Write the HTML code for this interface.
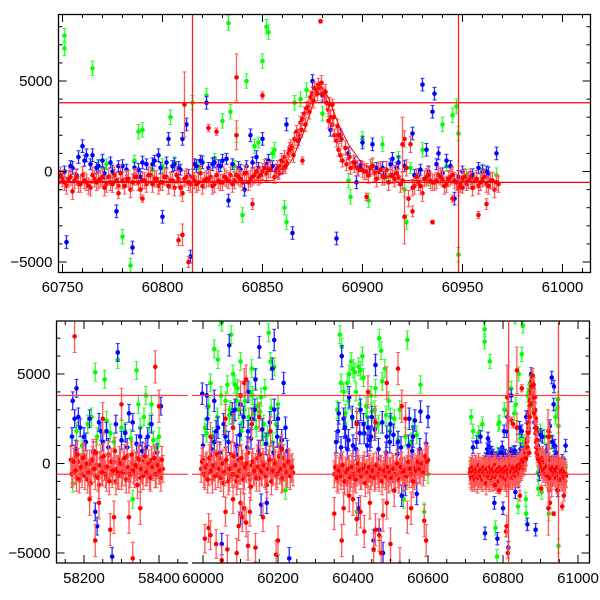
<!DOCTYPE html>
<html><head><meta charset="utf-8"><style>
html,body{margin:0;padding:0;background:#fff;}
svg{display:block;font-family:"Liberation Sans",sans-serif;}
</style></head><body>
<svg id="chart" width="600" height="600" viewBox="0 0 600 600" xmlns="http://www.w3.org/2000/svg">
<defs>
<clipPath id="clipTop"><rect x="58" y="14" width="533" height="258"/></clipPath>
<clipPath id="clipB1"><rect x="56" y="321" width="132" height="242"/></clipPath>
<clipPath id="clipB2"><rect x="192" y="321" width="398" height="242"/></clipPath>
</defs>
<g id="topPanel"></g>
<g id="botPanel"></g>
</svg>
<script>
// ---- recent season data (top panel + last bottom segment) ----
const redBaseX=[60712,60714,60716,60718,60720,60722,60724,60726,60728,60730,60732,60734,60736,60738,60740,60742,60744,60746,60748,60750,60752,60754,60756,60758,60760,60762,60764,60766,60768,60770,60772,60774,60776,60778,60780,60782,60784,60786,60788,60790,60792,60794,60796,60798,60800,60802,60804,60806,60808,60810,60812,60814,60816,60818,60820,60822,60824,60826,60828,60830,60832,60834,60836,60838,60840,60842,60844,60846,60848,60850,60852,60854];
const redBaseY=[-500,-700,-300,-900,-600,-400,-800,-200,-600,-500,-1000,-300,-700,-400,-600,-800,-300,-500,-600,-400,-800,-300,-500,-700,-200,-600,-900,-400,-500,-300,-700,-600,-200,-800,-500,-400,-1000,-300,-600,-500,-700,-200,-400,-800,-600,-300,-500,-900,-400,-1200,-300,-700,-500,-600,-800,-400,-300,-700,-500,-600,-400,-200,-500,-300,-600,-100,-400,-200,-300,0,-100,100];
const redBase2X=[60713,60715,60717,60719,60721,60723,60725,60727,60729,60731,60733,60735,60737,60739,60741,60743,60745,60747,60749,60751,60753,60755,60757,60759,60761,60763,60765,60767,60769,60771,60773,60775,60777,60779,60781,60783,60785,60787,60789,60791,60793,60795,60797,60799,60801,60803,60805,60807,60809,60811,60813,60815,60817,60819,60821,60823,60825,60827,60829,60831,60833,60835,60837,60839,60841,60843,60845,60847,60849,60851,60853];
const redBase2Y=[-300,-800,-500,-200,-700,-400,-900,-600,-300,-500,-800,-100,-600,-400,-700,-300,-900,-500,-200,-600,-400,-1100,-300,-700,-500,-800,-200,-600,-400,-900,-300,-700,-500,-100,-800,-400,-600,-300,-1000,-500,-200,-700,-400,-600,-300,-800,-500,-200,-900,-400,-600,-300,-700,-100,-500,-400,-800,-200,-600,-300,-500,-700,-200,-400,-100,-600,-300,0,-200,200,100];
const redPeakX=[60856,60857,60858,60859,60860,60861,60862,60863,60864,60865,60866,60867,60868,60869,60870,60871,60872,60873,60874,60875,60876,60877,60878,60879,60880,60881,60882,60883,60884,60885,60886,60887,60888,60889,60890,60892,60894,60896,60898];
const redPeakY=[-300,0,-100,300,200,800,500,1000,1400,1300,1800,2200,2000,2700,2900,3200,3500,3600,4100,4300,4600,4500,4800,4600,4300,4200,3800,3400,3000,2600,2000,1700,1200,900,600,400,200,300,100];
const redPeak2X=[60857.5,60859.5,60861.5,60863.5,60865.5,60867.5,60869.5,60871.5,60873.5,60875.5,60877.5,60879.5,60881.5,60883.5,60885.5,60887.5,60889.5,60891.5,60893.5,60895.5,60897.5];
const redPeak2Y=[200,600,300,1200,900,1700,2300,2600,3300,3900,4300,4900,4400,3700,3000,2500,1800,1300,800,500,200];
const redTailX=[60900,60902,60904,60906,60908,60910,60912,60914,60916,60918,60920,60922,60924,60926,60928,60930,60932,60934,60936,60938,60940,60942,60944,60946,60948,60950,60952,60954,60956,60958,60960,60962,60964,60966,60968];
const redTailY=[100,0,200,-100,0,-300,100,-200,-400,-300,-500,200,1500,-800,-600,-1200,-300,-500,-600,-200,-400,-700,-300,-500,-900,-400,-600,-300,-500,-800,-400,-700,-500,-1000,-700];
const redTail2X=[60901,60903,60905,60907,60909,60911,60913,60915,60917,60919,60921,60923,60925,60927,60929,60931,60933,60935,60937,60939,60941,60943,60945,60947,60949,60951,60953,60955,60957,60959,60961,60963,60965,60967];
const redTail2Y=[0,-200,300,-400,100,-300,-600,-200,-100,-700,1800,-1500,-900,-300,-800,-400,-200,-600,-500,-300,-800,-400,-200,-600,-700,-300,-500,-900,-400,-600,-300,-800,-500,-600];
const redOutX=[60813,60837,60850,60808,60879,60811,60823,60827,60935,60958,60962,60925,60920,60921,60902,60790,60778,60845,60837,60885,60888,60810,60883,60870,60945,60950];
const redOutY=[-5000,5200,4200,-3800,8300,3700,2400,2200,-2800,-2400,-1800,-2200,1500,-2500,-1400,-1500,-1200,-1800,2000,3700,2000,-3500,2800,600,-1500,-900];
const redOutE=[300,1300,200,300,100,1800,200,200,100,200,300,300,1500,1500,200,200,300,300,800,300,300,600,400,200,200,300];
const blueRecX=[60720,60725,60730,60740,60749,60752,60755,60758,60760,60762,60765,60768,60770,60775,60777,60780,60785,60788,60790,60795,60798,60800,60803,60806,60808,60810,60812,60814,60817,60820,60822,60825,60828,60830,60833,60838,60841,60844,60847,60850,60853,60858,60862,60865,60868,60870,60875,60880,60884,60887,60889,60893,60897,60900,60905,60910,60915,60918,60925,60928,60930,60932,60935,60936,60938,60942,60946,60948,60952,60955,60960,60963,60967];
const blueRecY=[900,-400,1200,1500,-300,-3900,200,800,1400,900,900,300,600,0,-2200,300,-4200,100,500,400,900,-2500,1800,400,200,1800,2600,-4700,300,500,3800,400,300,600,-1600,200,-1000,2000,800,1800,600,0,2600,-3400,1800,2900,5000,4200,2300,-3700,2000,1000,-600,1600,1500,200,700,500,2100,-200,4800,1200,3300,4300,1000,600,-1500,-300,-700,-200,0,-100,1000];
const blueBaseX=[60751,60754,60757,60761,60764,60767,60771,60774,60778,60782,60786,60789,60792,60796,60799,60802,60805,60809,60813,60816,60819,60823,60826,60829,60832,60835,60839,60842,60845,60848,60852,60855,60857,60860,60896,60899,60903,60907,60911,60914,60917,60921,60926,60929,60933,60937,60940,60944,60950,60954,60958,60962];
const blueBaseY=[0,300,-200,600,400,200,-100,500,300,100,200,-300,400,600,200,500,300,100,-200,400,600,200,500,300,700,400,100,300,500,200,400,300,100,200,500,300,0,200,-100,400,200,300,-200,100,0,400,-100,300,0,-300,200,0];
const greenRecX=[60715,60720,60735,60745,60751,60751,60765,60770,60780,60784,60788,60790,60800,60804,60815,60822,60830,60833,60834,60837,60840,60842,60846,60850,60852,60853,60856,60861,60862,60866,60869,60872,60880,60893,60894,60900,60903,60910,60921,60922,60930,60940,60945,60947,60948,60948,60955,60967];
const greenRecY=[2600,1800,1700,2200,7500,6800,5700,200,-3600,-5200,2200,2300,300,3000,3800,4200,2800,8200,3300,2000,-2400,5000,1400,6100,8000,7700,1200,-2000,-2800,3800,4000,4500,3200,-500,-1400,1800,-1600,1500,-1000,-2800,1200,2600,3100,3600,2100,-4600,-600,-200];
const greenBaseX=[60768,60772,60776,60786,60795,60806,60818,60826,60836,60848,60855,60905,60912,60918,60924,60933,60942,60952,60960];
const greenBaseY=[300,400,-200,600,100,500,200,700,300,1600,1000,400,-300,800,200,-500,300,-200,100];
const curveX=[60748,60800,60855,60860,60865,60870,60874,60878,60881,60884,60888,60893,60900,60910,60920,60968];
const curveY=[-550,-550,-500,-100,700,2000,3300,4800,4500,3800,2600,1500,400,-200,-500,-550];
// ---- older seasons (bottom panel) ----
const redAX=[58165,58170,58175,58180,58185,58190,58195,58200,58205,58210,58215,58220,58225,58230,58235,58240,58245,58250,58255,58260,58265,58270,58275,58280,58285,58290,58295,58300,58305,58310,58315,58320,58325,58330,58335,58340,58345,58350,58355,58360,58365,58370,58375,58380,58385,58390,58395,58400,58405,58410];
const redAY=[200,-500,300,-800,100,-300,-600,400,-200,-900,0,-400,600,-700,-100,-1200,300,-500,-200,-800,500,-300,-600,100,-1000,-400,200,-700,-100,-500,400,-900,-300,0,-600,-200,300,-800,-400,100,-500,-300,-700,200,-100,-600,0,-400,-800,-300];
const redA2X=[58167.5,58172.5,58177.5,58182.5,58187.5,58192.5,58197.5,58202.5,58207.5,58212.5,58217.5,58222.5,58227.5,58232.5,58237.5,58242.5,58247.5,58252.5,58257.5,58262.5,58267.5,58272.5,58277.5,58282.5,58287.5,58292.5,58297.5,58302.5,58307.5,58312.5,58317.5,58322.5,58327.5,58332.5,58337.5,58342.5,58347.5,58352.5,58357.5,58362.5,58367.5,58372.5,58377.5,58382.5,58387.5,58392.5,58397.5,58402.5,58407.5];
const redA2Y=[-600,100,-400,500,-900,-200,300,-700,0,-500,-1100,200,-300,600,-800,-100,-500,400,-600,-200,-1000,100,-400,700,-300,-700,0,-500,300,-900,-200,-600,500,-400,-100,-1200,200,-300,-700,400,-500,0,-800,-200,300,-600,-100,-400,200];
const redAOX=[58175,58390,58400,58215,58230,58250,58270,58280,58300,58320,58330,58350,58290,58240];
const redAOY=[7100,5400,3200,-2000,-4300,2500,-3700,-3000,3300,-3000,-5300,-2500,-500,-2200];
const blueAX=[58170,58175,58180,58185,58200,58230,58235,58240,58250,58260,58275,58290,58310,58320,58330,58350,58365,58380,58405,58168,58178,58190,58205,58215,58225,58245,58265,58285,58300,58315,58340,58355,58370,58395];
const blueAY=[3500,2500,4200,2600,1500,-2700,-3500,2300,1200,1800,-5200,6200,1700,2800,2300,1500,900,2200,3200,1500,800,2000,1200,2500,700,1800,900,2200,1300,900,1100,700,1500,600];
const greenAX=[58170,58220,58230,58255,58270,58290,58300,58330,58340,58345,58360,58365,58375,58385,58395,58180,58195,58210,58235,58260,58280,58310,58325,58350,58380,58400];
const greenAY=[-1100,2600,5100,4700,1700,5800,2000,-2000,5200,3300,2600,3800,2200,1300,900,1800,1000,2200,1500,2400,1200,1800,1400,2000,3300,1500];
const redBX=[59995,60000,60005,60010,60015,60020,60025,60030,60035,60040,60045,60050,60055,60060,60065,60070,60075,60080,60085,60090,60095,60100,60105,60110,60115,60120,60125,60130,60135,60140,60145,60150,60155,60160,60165,60170,60175,60180,60185,60190,60195,60200,60205,60210,60215,60220,60225,60230,60235,60240];
const redBY=[-300,200,-700,-100,-500,400,-900,-200,0,-600,300,-400,-1100,100,-300,-800,500,-200,-600,-1000,200,-400,0,-700,-300,600,-900,-100,-500,-200,300,-800,-400,100,-600,-1200,0,-300,-500,200,-700,-100,-400,-900,300,-200,-600,0,-300,-500];
const redB2X=[59997.5,60002.5,60007.5,60012.5,60017.5,60022.5,60027.5,60032.5,60037.5,60042.5,60047.5,60052.5,60057.5,60062.5,60067.5,60072.5,60077.5,60082.5,60087.5,60092.5,60097.5,60102.5,60107.5,60112.5,60117.5,60122.5,60127.5,60132.5,60137.5,60142.5,60147.5,60152.5,60157.5,60162.5,60167.5,60172.5,60177.5,60182.5,60187.5,60192.5,60197.5,60202.5,60207.5,60212.5,60217.5,60222.5,60227.5,60232.5,60237.5];
const redB2Y=[100,-600,-200,-900,300,-400,-100,-700,500,-300,-800,0,-500,200,-1000,-300,-600,400,-100,-700,-400,300,-900,-200,0,-600,-1300,100,-400,-800,-200,500,-500,-100,-700,-300,200,-1000,-400,0,-600,400,-300,-800,-100,-500,100,-700,-200];
const redBOX=[60005,60015,60020,60035,60050,60060,60065,60080,60090,60095,60100,60105,60110,60115,60120,60125,60140,60160,60195,60200,60110,60115,60060,60080,60130,60150,60180,60100,60020,60210];
const redBOY=[-4200,-3600,-4000,-4500,-5400,-2700,-4800,-2000,-5000,-3500,-2200,-3000,-2500,-3300,-4600,-2700,-4700,-3000,-5100,-4300,4500,4700,2500,2000,2200,2600,1800,3800,1500,800];
const blueBX=[59998,60010,60030,60050,60070,60085,60100,60120,60140,60150,60165,60185,60190,60200,60215,60220,60170,60100,60030,60060,60090,60130,60155,60190,60210,60040,60120,60230,60000,60012,60022,60035,60045,60055,60068,60078,60088,60098,60108,60118,60128,60138,60148,60158,60168,60178,60188,60198,60208,60225];
const blueBY=[3900,3800,3500,-4500,6600,3000,3300,4000,4700,6500,8600,5300,6900,2500,4500,2000,-2200,-2800,1200,1500,1000,2500,-2300,3000,1300,2000,1800,-5300,1000,2500,800,1800,600,2200,1200,2800,500,1600,2600,900,1400,3000,700,1900,1100,2300,600,1500,900,700];
const greenBX=[60020,60030,60040,60045,60050,60065,60075,60080,60090,60095,60100,60110,60120,60125,60130,60140,60145,60155,60165,60175,60180,60190,60060,60070,60085,60105,60135,60160,60185,60220,60010,60200,60005,60015,60025,60038,60048,60058,60072,60082,60092,60102,60112,60122,60132,60142,60152,60162,60172,60182,60195,60205];
const greenBY=[4500,6400,5800,8200,7900,4400,7200,5000,3500,3000,5700,3000,8800,4000,5300,4700,3200,3700,4200,7300,5700,5400,3500,2700,4400,2300,2800,1500,1200,-1500,1700,3300,2000,3200,1500,2600,3800,1800,3000,2400,4200,1800,3500,2600,3800,2000,2900,2200,1600,3100,2200,1000];
const redCX=[60350,60355,60360,60365,60370,60375,60380,60385,60390,60395,60400,60405,60410,60415,60420,60425,60430,60435,60440,60445,60450,60455,60460,60465,60470,60475,60480,60485,60490,60495,60500,60505,60510,60515,60520,60525,60530,60535,60540,60545,60550,60555,60560,60565,60570,60575,60580,60585,60590,60595,60600];
const redCY=[-600,-300,-900,-200,-500,-700,-400,-1000,-300,-600,-200,-800,-500,-300,-700,-400,-100,-600,-900,-300,-500,-200,-700,-400,-800,-300,-600,-100,-500,-900,-400,-200,-700,-300,-600,-500,-100,-800,-400,-300,-600,-200,-500,-700,-300,-100,-400,0,-200,300,200];
const redC2X=[60352.5,60357.5,60362.5,60367.5,60372.5,60377.5,60382.5,60387.5,60392.5,60397.5,60402.5,60407.5,60412.5,60417.5,60422.5,60427.5,60432.5,60437.5,60442.5,60447.5,60452.5,60457.5,60462.5,60467.5,60472.5,60477.5,60482.5,60487.5,60492.5,60497.5,60502.5,60507.5,60512.5,60517.5,60522.5,60527.5,60532.5,60537.5,60542.5,60547.5,60552.5,60557.5,60562.5,60567.5,60572.5,60577.5,60582.5,60587.5,60592.5,60597.5];
const redC2Y=[-200,-800,-400,-700,-100,-1000,-500,-300,-800,-200,-600,-900,0,-400,-700,-300,-1100,-500,-200,-700,-400,-800,-100,-600,-300,-1000,-400,-700,-200,-500,-800,-300,-600,0,-900,-200,-500,-400,-700,100,-300,-600,-200,-400,100,-300,0,-500,400,100];
const redCOX=[60350,60370,60375,60390,60400,60410,60420,60430,60440,60445,60455,60460,60470,60475,60480,60490,60510,60520,60525,60545,60555,60560,60590,60595,60530,60540,60490,60460,60500,60410];
const redCOY=[-2800,-4300,-2500,-1800,-2000,-3100,-2700,-3800,4000,-2200,-4800,-3700,-4000,-5000,-2900,-2200,-1500,5300,-5600,-3000,-2500,-1000,-3200,-4300,3200,2500,4500,2300,-4500,2200];
const blueCX=[60360,60370,60375,60380,60390,60400,60410,60420,60430,60440,60450,60460,60470,60480,60490,60500,60510,60520,60530,60540,60550,60560,60570,60580,60600,60415,60455,60385,60445,60565,60355,60362,60368,60378,60388,60398,60408,60418,60428,60438,60448,60458,60468,60478,60488,60498,60508,60518,60528,60548,60558,60578,60595];
const blueCY=[1800,6000,2500,1500,3700,1000,2300,3000,1700,2000,2600,5500,-3700,-5000,1500,2200,-1000,1200,-1800,-1200,2500,1500,-1700,2900,2600,-2500,-4300,800,1300,2400,1200,2800,900,2000,1300,2600,800,1700,2200,1000,1500,1900,800,2300,600,1200,1600,500,900,1000,700,800,1100];
const greenCX=[60365,60370,60375,60385,60390,60395,60400,60405,60415,60420,60425,60435,60450,60460,60470,60475,60485,60495,60500,60520,60535,60545,60560,60570,60580,60590,60600,60460,60380,60410,60358,60368,60378,60388,60398,60408,60418,60428,60438,60448,60458,60468,60478,60488,60498,60510,60525,60540,60555];
const greenCY=[7200,6500,4000,4500,5000,5700,5300,5100,5400,5200,6000,3200,2900,4200,7000,6300,5300,3500,2600,1300,-2000,6900,2000,1600,4400,-2700,-600,2000,2800,-2700,3000,4500,2200,3500,2500,4000,3300,4800,2600,3800,3000,2200,4600,2700,1800,2500,3000,1500,1200];
const hLines=[3800,-600];
const vLines=[60815,60948];
const topXTicks=[60750,60800,60850,60900,60950,61000];
const yTicks=[-5000,0,5000];
const botXTicks1=[58200,58400];
const botXTicks2=[60000,60200,60400,60600,60800,61000];

const NS='http://www.w3.org/2000/svg';
function mk(tag,attrs,parent){const e=document.createElementNS(NS,tag);for(const k in attrs)e.setAttribute(k,attrs[k]);parent.appendChild(e);return e;}
const xTop=v=>62.5+(v-60750)*2.0;
const yTop=v=>171.5-v*90.5/5000;
const xBot=v=>v<59000?84+(v-58200)*0.375:203+(v-60000)*0.375;
const yBot=v=>463.5-v*89.5/5000;
const COL={red:'#ff0000',blue:'#0000ff',green:'#00ff00'};
const BAR={red:'#ff5a5a',blue:'#2a2aff',green:'#30ff30'};

function drawSeries(g,xs,ys,errs,color,xs_,ys_,name){
  const sg=mk('g',{},g);
  
  
  for(let i=0;i<xs.length;i++){
    const e=Array.isArray(errs)?errs[i]:errs;
    const px=xs_(xs[i]),py=ys_(ys[i]),p1=ys_(ys[i]+e),p2=ys_(ys[i]-e);
    mk('line',{x1:px,x2:px,y1:p1,y2:p2,stroke:BAR[color],'stroke-width':1.3},sg);
    mk('line',{x1:px-2,x2:px+2,y1:p1,y2:p1,stroke:BAR[color],'stroke-width':1},sg);
    mk('line',{x1:px-2,x2:px+2,y1:p2,y2:p2,stroke:BAR[color],'stroke-width':1},sg);
    const c=mk('circle',{cx:px,cy:py,r:2.3,fill:COL[color]},sg);
    
    
  }
}
function recentSeries(g,xs_,ys_,be){
  drawSeries(g,greenRecX,greenRecY,400,'green',xs_,ys_,'green-series');
  drawSeries(g,greenBaseX,greenBaseY,300,'green',xs_,ys_,'green-series-baseline');
  drawSeries(g,blueRecX,blueRecY,350,'blue',xs_,ys_,'blue-series');
  drawSeries(g,blueBaseX,blueBaseY,300,'blue',xs_,ys_,'blue-series-baseline');
  drawSeries(g,redBaseX,redBaseY,be,'red',xs_,ys_,'red-series-baseline');
  drawSeries(g,redBase2X,redBase2Y,be,'red',xs_,ys_,'red-series-baseline-2');
  drawSeries(g,redPeakX,redPeakY,350,'red',xs_,ys_,'red-series-peak');
  drawSeries(g,redPeak2X,redPeak2Y,400,'red',xs_,ys_,'red-series-peak-2');
  drawSeries(g,redTailX,redTailY,be,'red',xs_,ys_,'red-series-tail');
  drawSeries(g,redTail2X,redTail2Y,be,'red',xs_,ys_,'red-series-tail-2');
  drawSeries(g,redOutX,redOutY,redOutE,'red',xs_,ys_,'red-series-outliers');
}
function yAxis(g,x0,x1,yT,top,bot){
  for(let v=-6000;v<=9000;v+=1000){
    const y=yT(v); if(y<top||y>bot) continue;
    const major=v%5000===0, L=major?8:4;
    mk('line',{x1:x0,x2:x0+L,y1:y,y2:y,stroke:'#000','stroke-width':1},g);
    mk('line',{x1:x1-L,x2:x1,y1:y,y2:y,stroke:'#000','stroke-width':1},g);
  }
  yTicks.forEach(v=>{
    const t=mk('text',{x:x0-6,y:yT(v)+5,'text-anchor':'end','font-size':15,fill:'#000'},g);
    t.textContent=v<0?'\u2212'+Math.abs(v):String(v);
    
    
  });
}

// ---------- TOP PANEL ----------
const tp=document.getElementById('topPanel');
const tc=mk('g',{'clip-path':'url(#clipTop)'},tp);
recentSeries(tc,xTop,yTop,450);
const curve=mk('polyline',{points:curveX.map((x,i)=>xTop(x)+','+yTop(curveY[i])).join(' '),fill:'none',stroke:'#ff0000','stroke-width':1},tc);


hLines.forEach(v=>{const l=mk('line',{x1:58,x2:591,y1:yTop(v),y2:yTop(v),stroke:'#ff0000','stroke-width':1.2},tp);});
vLines.forEach(v=>{const l=mk('line',{x1:xTop(v),x2:xTop(v),y1:14,y2:272,stroke:'#ff2020','stroke-width':1.3},tp);});
mk('rect',{x:58.5,y:14.5,width:532,height:258,fill:'none',stroke:'#000','stroke-width':1.3},tp);
for(let v=60750;v<=61010;v+=10){
  const x=xTop(v); if(x>590) continue;
  const L=v%50===0?8:4;
  mk('line',{x1:x,x2:x,y1:272,y2:272-L,stroke:'#000','stroke-width':1},tp);
  mk('line',{x1:x,x2:x,y1:14,y2:14+L,stroke:'#000','stroke-width':1},tp);
}
topXTicks.forEach(v=>{const t=mk('text',{x:xTop(v),y:292,'text-anchor':'middle','font-size':15,fill:'#000'},tp);t.textContent=String(v);});
yAxis(tp,58.5,590.5,yTop,14,272);

// ---------- BOTTOM PANEL ----------
const bp=document.getElementById('botPanel');
const b1=mk('g',{'clip-path':'url(#clipB1)'},bp);
const b2=mk('g',{'clip-path':'url(#clipB2)'},bp);
drawSeries(b1,greenAX,greenAY,500,'green',xBot,yBot,'green-series-2018');
drawSeries(b1,blueAX,blueAY,500,'blue',xBot,yBot,'blue-series-2018');
drawSeries(b1,redAX,redAY,750,'red',xBot,yBot,'red-series-2018');
drawSeries(b1,redA2X,redA2Y,750,'red',xBot,yBot,'red-series-2018-b');
drawSeries(b1,redAOX,redAOY,900,'red',xBot,yBot,'red-outliers-2018');
drawSeries(b2,greenBX,greenBY,500,'green',xBot,yBot,'green-series-2023');
drawSeries(b2,blueBX,blueBY,600,'blue',xBot,yBot,'blue-series-2023');
drawSeries(b2,redBX,redBY,750,'red',xBot,yBot,'red-series-2023');
drawSeries(b2,redB2X,redB2Y,750,'red',xBot,yBot,'red-series-2023-b');
drawSeries(b2,redBOX,redBOY,800,'red',xBot,yBot,'red-outliers-2023');
drawSeries(b2,greenCX,greenCY,500,'green',xBot,yBot,'green-series-2024');
drawSeries(b2,blueCX,blueCY,600,'blue',xBot,yBot,'blue-series-2024');
drawSeries(b2,redCX,redCY,750,'red',xBot,yBot,'red-series-2024');
drawSeries(b2,redC2X,redC2Y,750,'red',xBot,yBot,'red-series-2024-b');
drawSeries(b2,redCOX,redCOY,900,'red',xBot,yBot,'red-outliers-2024');
recentSeries(b2,xBot,yBot,650);
[[56,188],[192,590]].forEach(seg=>{
  hLines.forEach(v=>{const l=mk('line',{x1:seg[0],x2:seg[1],y1:yBot(v),y2:yBot(v),stroke:'#ff4040','stroke-width':1.2},bp);});
  mk('line',{x1:seg[0],x2:seg[1],y1:321,y2:321,stroke:'#000','stroke-width':1.3},bp);
  mk('line',{x1:seg[0],x2:seg[1],y1:563,y2:563,stroke:'#000','stroke-width':1.3},bp);
});
vLines.forEach(v=>{const l=mk('line',{x1:xBot(v),x2:xBot(v),y1:321,y2:563,stroke:'#ff4040','stroke-width':1.3},bp);});
mk('line',{x1:56.5,x2:56.5,y1:321,y2:563,stroke:'#000','stroke-width':1.3},bp);
mk('line',{x1:589.5,x2:589.5,y1:321,y2:563,stroke:'#000','stroke-width':1.3},bp);
function botTicks(from,to,lo,hi){
  for(let v=from;v<=to;v+=50){const x=xBot(v); if(x<lo||x>hi) continue; const L=v%200===0?8:4;
    mk('line',{x1:x,x2:x,y1:563,y2:563-L,stroke:'#000','stroke-width':1},bp);
    mk('line',{x1:x,x2:x,y1:321,y2:321+L,stroke:'#000','stroke-width':1},bp);}
}
botTicks(58150,58450,57,187); botTicks(59950,61050,193,589);
botXTicks1.concat(botXTicks2).forEach(v=>{const t=mk('text',{x:xBot(v),y:583,'text-anchor':'middle','font-size':15,fill:'#000'},bp);t.textContent=String(v);});
yAxis(bp,56.5,589.5,yBot,321,563);
</script>
</body></html>
